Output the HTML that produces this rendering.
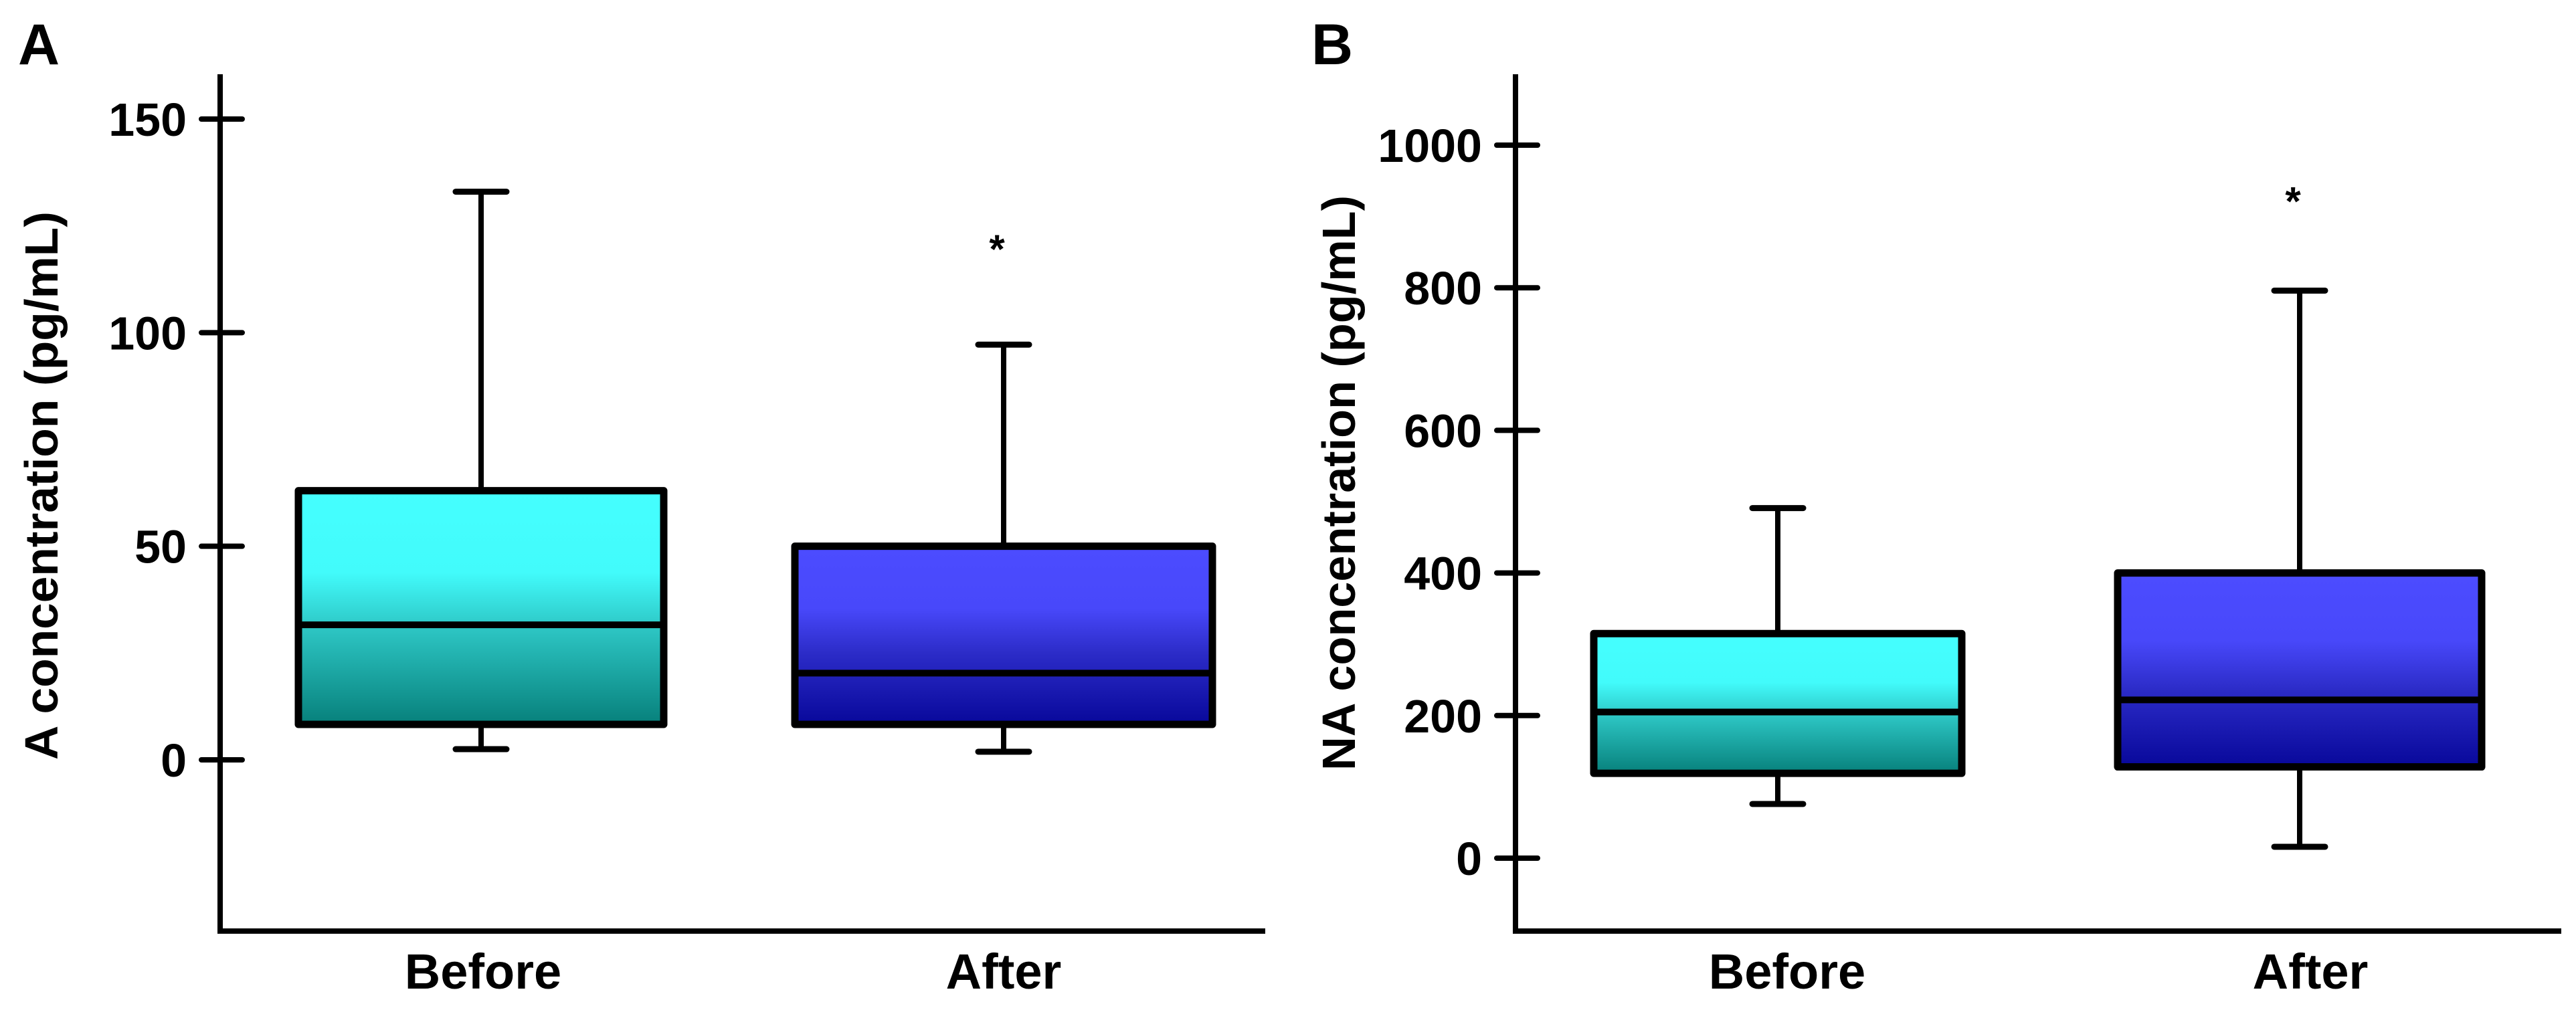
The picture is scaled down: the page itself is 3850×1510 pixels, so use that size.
<!DOCTYPE html>
<html><head><meta charset="utf-8"><style>
html,body{margin:0;padding:0;background:#fff}
svg{display:block}
text{font-family:"Liberation Sans",Arial,sans-serif;font-weight:bold;fill:#000}
</style></head><body>
<svg id="chart" width="3850" height="1510" viewBox="0 0 3850 1510" xmlns="http://www.w3.org/2000/svg">
<defs>
<linearGradient id="gCyan" x1="0" y1="0" x2="0" y2="1">
<stop offset="0" stop-color="#45FFFF"/><stop offset="0.35" stop-color="#42FBFB"/><stop offset="0.6" stop-color="#2CC4C2"/><stop offset="1" stop-color="#07807B"/>
</linearGradient>
<linearGradient id="gBlue" x1="0" y1="0" x2="0" y2="1">
<stop offset="0" stop-color="#4C4CFF"/><stop offset="0.35" stop-color="#4848FA"/><stop offset="0.6" stop-color="#2C2CC8"/><stop offset="1" stop-color="#08089A"/>
</linearGradient>
</defs>
</svg>
<script>
// Panel A data
const catsA = ["Before","After"];
const minA = [2.5, 1.9];
const q1A = [8.3, 8.3];
const medA = [31.6, 20.3];
const q3A = [63, 50];
const maxA = [133, 97.2];
const outA = [null, 121];
const ticksA = [0, 50, 100, 150];
// Panel B data
const catsB = ["Before","After"];
const minB = [76, 16];
const q1B = [119, 128];
const medB = [205, 222];
const q3B = [315, 400];
const maxB = [491, 796];
const outB = [null, 930];
const ticksB = [0, 200, 400, 600, 800, 1000];

const NS = "http://www.w3.org/2000/svg";
const svg = document.getElementById("chart");
function mk(tag, attrs, parent){
  const e = document.createElementNS(NS, tag);
  for (const k in attrs) e.setAttribute(k, attrs[k]);
  (parent||svg).appendChild(e);
  return e;
}

function panel(cfg){
  const g = mk("g", {});
  
  
  const y = v => cfg.y0px + (v - 0) * (cfg.yTop - cfg.y0px) / cfg.topVal;
  const ya = mk("line", {x1:cfg.ax, y1:111, x2:cfg.ax, y2:1392, stroke:"#000","stroke-width":8}, g);
  
  
  const xa = mk("line", {x1:cfg.ax-4, y1:1392, x2:cfg.axEnd, y2:1392, stroke:"#000","stroke-width":8}, g);
  
  
  cfg.ticks.forEach(t => {
    const tl = mk("line", {x1:cfg.ax-28, y1:y(t), x2:cfg.ax+33, y2:y(t), stroke:"#000","stroke-width":8,"stroke-linecap":"round"}, g);
    
    
    const tx = mk("text", {x:cfg.ax-50, y:y(t)+25, "text-anchor":"end","font-size":70}, g);
    tx.textContent = t;
    
    
  });
  const tt = mk("text", {transform:`translate(${cfg.titleX},${cfg.titleY}) rotate(-90)`, "text-anchor":"middle","font-size":70, textLength:cfg.titleLen, lengthAdjust:"spacingAndGlyphs"}, g);
  tt.textContent = cfg.title;
  
  
  const pl = mk("text", {x:cfg.letterX, y:96, "font-size":86}, g);
  pl.textContent = cfg.letter;
  
  
  cfg.cats.forEach((c, i) => {
    const cx = cfg.cx[i], hw = cfg.hw[i];
    const grad = i === 0 ? "url(#gCyan)" : "url(#gBlue)";
    const wl = mk("line", {x1:cx, y1:y(cfg.max[i]), x2:cx, y2:y(cfg.min[i]), stroke:"#000","stroke-width":8}, g);
    
    
    [cfg.max[i], cfg.min[i]].forEach(v => {
      const cap = mk("line", {x1:cx-38, y1:y(v), x2:cx+38, y2:y(v), stroke:"#000","stroke-width":9,"stroke-linecap":"round"}, g);
      
      
    });
    const bx = mk("rect", {x:cx-hw, y:y(cfg.q3[i]), width:2*hw, height:y(cfg.q1[i])-y(cfg.q3[i]), fill:grad, stroke:"#000","stroke-width":11,"stroke-linejoin":"round"}, g);
    
    
    const md = mk("line", {x1:cx-hw, y1:y(cfg.med[i]), x2:cx+hw, y2:y(cfg.med[i]), stroke:"#000","stroke-width":10}, g);
    
    
    if (cfg.out[i] !== null) {
      const as = mk("text", {x:cx-10, y:y(cfg.out[i])+30, "text-anchor":"middle","font-size":60}, g);
      as.textContent = "*";
      
      
    }
    const xl = mk("text", {x:cfg.lx[i], y:1478, "text-anchor":"middle","font-size":74}, g);
    xl.textContent = c;
    
    
  });
}

panel({name:"panel-a", letter:"A", letterX:27, ax:329, axEnd:1891, y0px:1136, yTop:178, topVal:150,
  ticks:ticksA, cats:catsA, min:minA, q1:q1A, med:medA, q3:q3A, max:maxA, out:outA,
  cx:[719,1500], hw:[273,312], lx:[722,1500], title:"A concentration (pg/mL)", titleX:86, titleY:726, titleLen:820});
panel({name:"panel-b", letter:"B", letterX:1960, ax:2265, axEnd:3828, y0px:1283, yTop:217, topVal:1000,
  ticks:ticksB, cats:catsB, min:minB, q1:q1B, med:medB, q3:q3B, max:maxB, out:outB,
  cx:[2657,3437], hw:[275,272], lx:[2671,3453], title:"NA concentration (pg/mL)", titleX:2025, titleY:722, titleLen:860});
</script>
</body></html>
